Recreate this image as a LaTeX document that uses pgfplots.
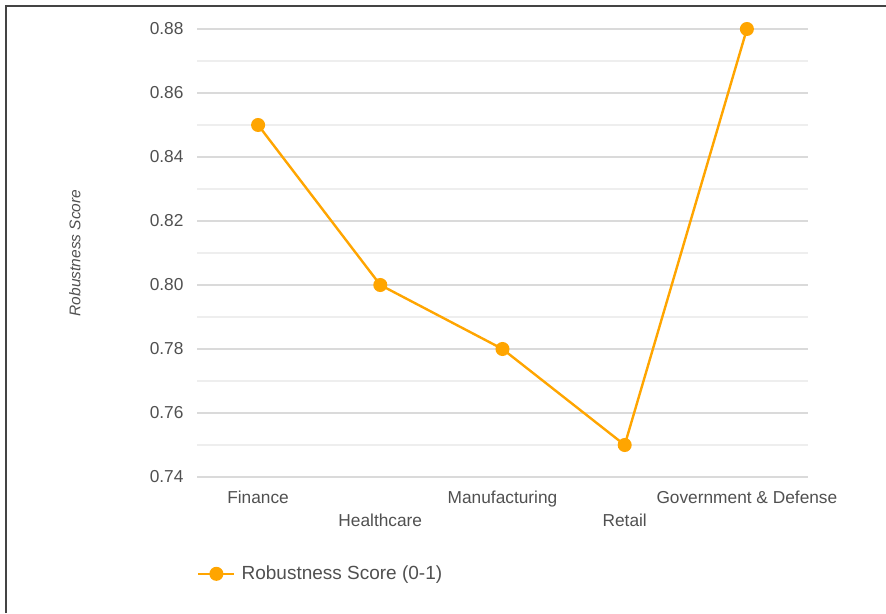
\documentclass[border=0pt]{standalone}
\usepackage{pgfplots}
\pgfplotsset{compat=1.18}
\usepackage{fontspec}
\setmainfont{Liberation Sans}
\definecolor{lineor}{RGB}{255,165,0}
\definecolor{txt}{RGB}{80,80,80}
\definecolor{frame}{RGB}{68,68,68}
\definecolor{gmaj}{RGB}{218,218,218}
\definecolor{gmin}{RGB}{238,238,238}
\begin{document}
\begin{tikzpicture}[x=1pt,y=1pt]
\useasboundingbox (0,0) rectangle (886,613);
\draw[line width=2pt, color=frame] (6,0) -- (6,607) -- (886,607);
\begin{axis}[
  at={(197pt,136pt)}, anchor=south west,
  scale only axis, width=611pt, height=448pt,
  xmin=-0.5, xmax=4.5, ymin=0.74, ymax=0.88,
  ytick={0.74,0.76,0.78,0.80,0.82,0.84,0.86,0.88},
  minor y tick num=1,
  ymajorgrids, yminorgrids,
  major grid style={gmaj, line width=1.4pt},
  minor grid style={gmin, line width=1.2pt},
  axis line style={draw=none},
  major tick style={draw=none}, minor tick style={draw=none},
  xtick={0,2,4},
  xticklabels={Finance,Manufacturing,Government \& Defense},
  extra x ticks={1,3},
  extra x tick labels={Healthcare,Retail},
  extra x tick style={grid=none, tick label style={yshift=-23pt}},
  xticklabel style={font=\fontsize{17.3}{20}\selectfont, text=txt, yshift=-10pt},
  yticklabel style={font=\fontsize{17.3}{20}\selectfont, text=txt, xshift=-10pt},
  /pgf/number format/assume math mode=true,
  y tick label style={/pgf/number format/.cd, fixed, fixed zerofill, precision=2},
  ylabel={Robustness Score},
  ylabel style={anchor=center, font=\fontsize{15.5}{18}\selectfont\itshape, text=txt},
  every axis y label/.append style={at={(axis description cs:-0.2,0.5)}},
  legend style={at={(axis description cs:0,0)}, anchor=north west, yshift=-87pt,
    draw=none, fill=none, inner sep=0pt, font=\fontsize{19}{22}\selectfont, text=txt,
    nodes={inner sep=2pt}, /tikz/every odd column/.append style={column sep=4pt}},
  legend cell align=left,
  legend image code/.code={\draw[#1, mark repeat=2, mark phase=2] plot coordinates {(0pt,0pt) (18pt,0pt) (36pt,0pt)};},
]
\addplot[lineor, line width=2.4pt, mark=*, mark size=5.8pt, mark options={fill=lineor, draw=lineor}]
  coordinates {(0,0.85) (1,0.80) (2,0.78) (3,0.75) (4,0.88)};
\addlegendentry{Robustness Score (0-1)}
\end{axis}
\end{tikzpicture}
\end{document}
